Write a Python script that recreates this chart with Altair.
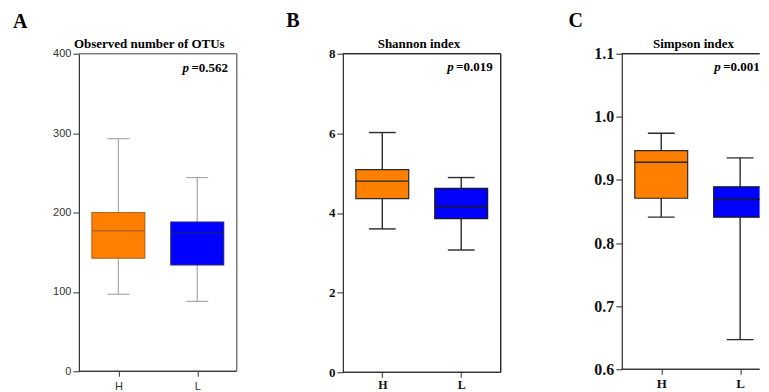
import altair as alt
import pandas as pd

# ---------------- data ----------------
groups = ["H", "L"]
group_pos = [0.5, 1.5]
box_fill = ["#FF8000", "#0000FF"]

otu_low = [97, 88]
otu_q1 = [142.5, 134]
otu_med = [177, 174]
otu_q3 = [200, 188]
otu_high = [293, 244]

sh_low = [3.60, 3.07]
sh_q1 = [4.36, 3.86]
sh_med = [4.80, 4.16]
sh_q3 = [5.09, 4.62]
sh_high = [6.02, 4.89]

si_low = [0.841, 0.647]
si_q1 = [0.871, 0.841]
si_med = [0.928, 0.869]
si_q3 = [0.9465, 0.889]
si_high = [0.974, 0.935]

otu_ticks = [0, 100, 200, 300, 400]
sh_ticks = [0, 2, 4, 6, 8]
si_ticks = [0.6, 0.7, 0.8, 0.9, 1.0, 1.1]

UNIT = 79.0  # pixels per category slot
SERIF = "Liberation Serif"
SANS = "Liberation Sans"


def panel(letter, title, pval, low, q1, med, q3, high, ydom, yticks, yfmt,
          width, height, style, right_border, title_cx, letter_x, letter_y,
          p_x, p_y, cap_half, clip=False):
    df = pd.DataFrame({
        "group": groups, "pos": group_pos, "low": low, "q1": q1, "med": med,
        "q3": q3, "high": high, "fill": box_fill,
        "stroke": style["box_stroke"], "mcol": style["med_col"],
    })
    base = alt.Chart(df).transform_calculate(
        bl="datum.pos - 0.335", br="datum.pos + 0.335",
        cl=f"datum.pos - {cap_half}", cr=f"datum.pos + {cap_half}",
    )
    xs = alt.Scale(domain=[0, width / UNIT], nice=False, zero=False)
    ys = alt.Scale(domain=ydom, nice=False, zero=False)
    xaxis = alt.Axis(values=group_pos, labelExpr="datum.value < 1 ? 'H' : 'L'",
                     domain=False, grid=False, tickSize=5, tickColor=style["axis_col"],
                     tickWidth=1, labelFont=style["lab_font"], labelFontSize=style["xlab_size"],
                     labelFontWeight=style["lab_weight"], labelColor=style["lab_col"],
                     labelPadding=style["xlab_pad"], labelAngle=0, title=None)
    yaxis = alt.Axis(values=yticks, format=yfmt, domain=True, domainColor=style["axis_col"],
                     domainWidth=1.2, tickColor=style["axis_col"], tickSize=6, tickWidth=1,
                     grid=False, title=None, labelFont=style["lab_font"],
                     labelFontSize=style["ylab_size"], labelFontWeight=style["lab_weight"],
                     labelColor=style["lab_col"], labelPadding=2)

    whisk = base.mark_rule(color=style["whisk_col"], strokeWidth=style["whisk_w"], clip=clip).encode(
        x=alt.X("pos:Q", scale=xs, axis=xaxis),
        y=alt.Y("low:Q", scale=ys, axis=yaxis),
        y2="high:Q",
    )
    cap_lo = base.mark_rule(color=style["whisk_col"], strokeWidth=style["whisk_w"], clip=clip).encode(
        x="cl:Q", x2="cr:Q", y="low:Q")
    cap_hi = base.mark_rule(color=style["whisk_col"], strokeWidth=style["whisk_w"], clip=clip).encode(
        x="cl:Q", x2="cr:Q", y="high:Q")
    box = base.mark_bar(strokeWidth=1.2, clip=clip).encode(
        x="bl:Q", x2="br:Q", y="q1:Q", y2="q3:Q",
        fill=alt.Fill("fill:N", scale=None, legend=None),
        stroke=alt.Stroke("stroke:N", scale=None, legend=None),
    )
    median = base.mark_rule(strokeWidth=1.5, clip=clip).encode(
        x="bl:Q", x2="br:Q", y="med:Q",
        color=alt.Color("mcol:N", scale=None, legend=None),
    )

    xend = 2.0 if right_border else width / UNIT
    frame = [
        alt.Chart(df).mark_rule(color=style["axis_col"], strokeWidth=1.2).encode(
            x=alt.datum(0.0), x2=alt.datum(xend), y=alt.datum(ydom[0])),
        alt.Chart(df).mark_rule(color=style["border_col"], strokeWidth=1.2).encode(
            x=alt.datum(0.0), x2=alt.datum(xend), y=alt.datum(ydom[1])),
    ]
    if right_border:
        frame.append(alt.Chart(df).mark_rule(color=style["border_col"], strokeWidth=1.2).encode(
            x=alt.datum(2.0), y=alt.datum(ydom[0]), y2=alt.datum(ydom[1])))

    tdf = pd.DataFrame({"t": [title]})
    ttl = alt.Chart(tdf).mark_text(font=SERIF, fontWeight="bold", fontSize=13,
                                   align="center", baseline="alphabetic", color="black").encode(
        x=alt.value(title_cx), y=alt.value(-6), text="t:N")
    ldf = pd.DataFrame({"t": [letter]})
    let = alt.Chart(ldf).mark_text(font=SERIF, fontWeight="bold", fontSize=20,
                                   align="left", baseline="top", color="black").encode(
        x=alt.value(letter_x), y=alt.value(letter_y), text="t:N")
    pdf = pd.DataFrame({"t": ["p"], "v": ["=" + pval]})
    p_it = alt.Chart(pdf).mark_text(font=SERIF, fontWeight="bold", fontStyle="italic",
                                    fontSize=13, align="right", baseline="alphabetic",
                                    color="black").encode(
        x=alt.value(p_x - 2.4), y=alt.value(p_y), text="t:N")
    p_val = alt.Chart(pdf).mark_text(font=SERIF, fontWeight="bold", fontSize=13,
                                     align="left", baseline="alphabetic", color="black").encode(
        x=alt.value(p_x), y=alt.value(p_y), text="v:N")

    return alt.layer(whisk, cap_lo, cap_hi, box, median, *frame, ttl, let, p_it, p_val).properties(
        width=width, height=height)


style_a = dict(box_stroke=["#B8641E", "#23238F"], med_col=["#B8641E", "#1E1E80"],
               whisk_col="#A8A8A8", whisk_w=1.2, axis_col="#333333", border_col="#7a7a7a",
               lab_font=SANS, lab_weight="normal", lab_col="#333333",
               xlab_size=11, ylab_size=11, xlab_pad=4)
style_b = dict(box_stroke=["#2a2a2a", "#1a1a1a"], med_col=["#2a2a2a", "#1a1a1a"],
               whisk_col="#2a2a2a", whisk_w=1.4, axis_col="#2a2a2a", border_col="#2a2a2a",
               lab_font=SERIF, lab_weight="bold", lab_col="#111111",
               xlab_size=12, ylab_size=13, xlab_pad=2)
style_c = dict(style_b, ylab_size=16, xlab_size=13, xlab_pad=3.5)

pa = panel("A", "Observed number of OTUs", "0.562", otu_low, otu_q1, otu_med, otu_q3, otu_high,
           [0, 400], otu_ticks, "d", 158, 318, style_a, True, 70.5, -66, -42, 112.7, 18, 0.14)
pb = panel("B", "Shannon index", "0.019", sh_low, sh_q1, sh_med, sh_q3, sh_high,
           [0, 8], sh_ticks, "d", 172.1, 319, style_b, True, 76.2, -56.6, -42.5, 113.4, 17, 0.17)
pc = panel("C", "Simpson index", "0.001", si_low, si_q1, si_med, si_q3, si_high,
           [0.6, 1.1], si_ticks, ".1f", 138, 316, style_c, False, 71.8, -53.4, -42.5, 101.5, 17, 0.17,
           clip=True)

chart = alt.hconcat(pa, pb, pc, spacing=106.3, bounds="flush").properties(
    padding={"left": 5, "top": 2.5, "right": 0, "bottom": 0}
).configure_view(stroke=None)

chart.save("out.html", embed_options={"renderer": "svg", "actions": False})
